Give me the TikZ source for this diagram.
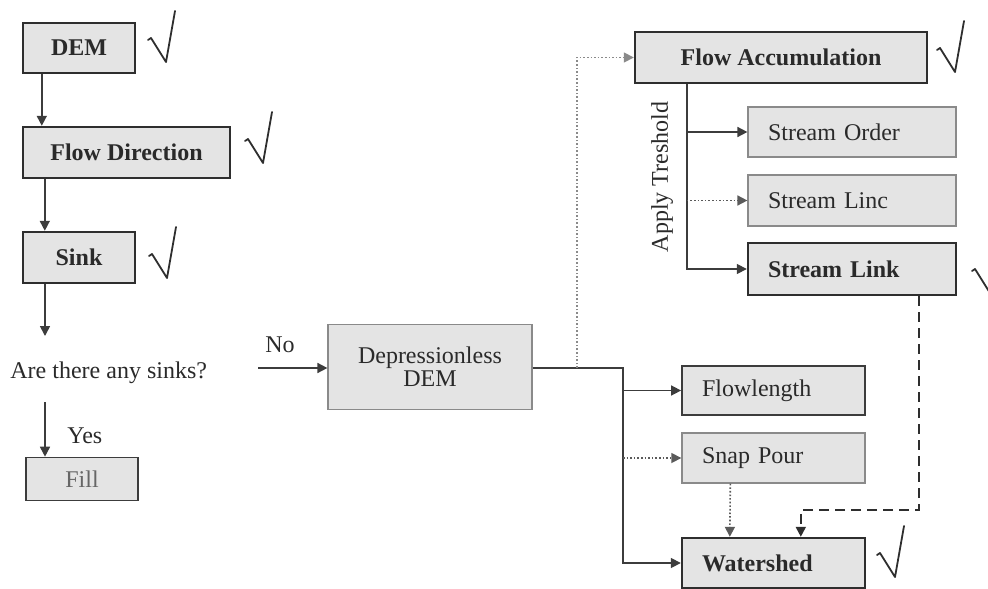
\documentclass[tikz,border=0pt]{standalone}
\usepackage{fontspec}
\setmainfont{Liberation Serif}
\usetikzlibrary{arrows.meta,calc}
\definecolor{lncol}{HTML}{3C3C3C}
\definecolor{boxfill}{HTML}{E4E4E4}
\definecolor{bdark}{HTML}{2E2E2E}
\definecolor{blight}{HTML}{8A8A8A}
\definecolor{dotcol}{HTML}{5A5A5A}
\definecolor{txt}{HTML}{2A2A2A}
\begin{document}
\begin{tikzpicture}[x=0.5pt,y=-0.5pt,
  every node/.style={font=\fontsize{12pt}{11.5pt}\selectfont, text=txt},
  ln/.style={draw=lncol, line width=0.8pt},
  arr/.style={ln, -{Triangle[length=5pt,width=5pt]}},
  dotarr/.style={arr, draw=dotcol, densely dotted},
  dasharr/.style={draw=bdark, line width=1pt, dash pattern=on 5pt off 3pt, -{Triangle[length=5pt,width=5pt]}},
  box/.style n args={2}{fill=boxfill, minimum width=#1*0.5pt, minimum height=#2*0.5pt, inner ysep=0pt},
  bbox/.style n args={2}{box={#1}{#2}, draw=bdark, line width=1.2pt, font=\fontsize{12pt}{11.5pt}\selectfont\bfseries},
  tbox/.style n args={2}{box={#1}{#2}, draw=blight, line width=0.6pt},
  leftpad/.style={align=left, inner xsep=10pt, text width=#1},
  chk/.pic={\draw[draw=bdark, line width=0.9pt, line cap=round, line join=round] (-18,-22) -- (-15,-24) -- (0,0) -- (9,-51);}
]
\useasboundingbox (0,0) rectangle (988,588);

% left column
\node[bbox={112}{50}] (dem) at (79,48) {DEM};
\node[bbox={207}{51}] (fdir) at (126.5,152.5) {Flow Direction};
\node[bbox={112}{51}] (sink) at (79,257.5) {Sink};
\node[anchor=base west, inner sep=0pt] (q) at (10,378) {Are there any sinks?};
\node[box={112}{43}, draw=lncol, line width=0.8pt, text=black!60] (fill) at (82,479) {Fill};
\node[anchor=base west, inner sep=0pt] (yes) at (67,443) {Yes};
\node[anchor=base west, inner sep=0pt] (no) at (265,352) {No};

% centre
\node[tbox={204}{85}, align=center] (dep) at (430,367) {Depressionless\\DEM};

% right
\node[bbox={292}{51}] (facc) at (781,57.5) {Flow Accumulation};
\node[tbox={208}{50}, leftpad=84pt] (sord) at (852,132) {Stream Order};
\node[tbox={208}{51}, leftpad=84pt] (slinc) at (852,200.5) {Stream Linc};
\node[bbox={208}{52}, leftpad=84pt] (slink) at (852,269) {Stream Link};
\node[rotate=90, inner sep=0pt] (thr) at (662,177) {Apply Treshold};
\node[box={183}{49}, draw=lncol, line width=0.9pt, leftpad=71.5pt] (flen) at (773.5,390.5) {Flowlength};
\node[box={183}{50}, draw=blight, line width=0.7pt, leftpad=71.5pt] (snap) at (773.5,458) {Snap Pour};
\node[bbox={183}{50}, leftpad=71.5pt] (wshed) at (773.5,563) {Watershed};

% checks
\pic at (166,62) {chk};
\pic at (263,163) {chk};
\pic at (167,278) {chk};
\pic at (955,72) {chk};
\pic at (990,293) {chk};
\pic at (895,577) {chk};

% left connectors
\draw[arr] ([xshift=10pt]dem.south west) -- ([xshift=10pt]fdir.north west);
\draw[arr] ([xshift=11.5pt]fdir.south west) -- ([xshift=11.5pt]sink.north west);
\coordinate (qin) at (45,336);
\draw[arr] (qin |- sink.south) -- (qin);
\coordinate (ysrc) at (45,402);
\draw[arr] (ysrc) -- (ysrc |- fill.north);
\coordinate (nsrc) at (258,368);
\draw[arr] (nsrc) -- (nsrc -| dep.west);

% right connectors
\coordinate (trunk) at (623,368);
\draw[arr] (dep.east |- trunk) -- (trunk) |- (wshed.west);
\draw[arr] (trunk |- flen.west) -- (flen.west);
\draw[dotarr] (trunk |- snap.west) -- (snap.west);
\coordinate (dsplit) at (577,368);
\draw[dotarr, draw=blight] (dsplit) |- (facc.west);
\coordinate (thtop) at ([xshift=26.5pt]facc.south west);
\draw[arr] (thtop) |- (slink.west);
\draw[arr] (thtop |- sord.west) -- (sord.west);
\draw[dotarr] (thtop |- slinc.west) -- (slinc.west);
\coordinate (ds) at ([xshift=-19pt]slink.south east);
\coordinate (de) at ([xshift=60pt]wshed.north west);
\draw[dasharr] (ds) -- ++(0,214) -| (de);
\draw[dotarr] ([xshift=24.5pt]snap.south west) -- ([xshift=24.5pt]wshed.north west);
\end{tikzpicture}
\end{document}
